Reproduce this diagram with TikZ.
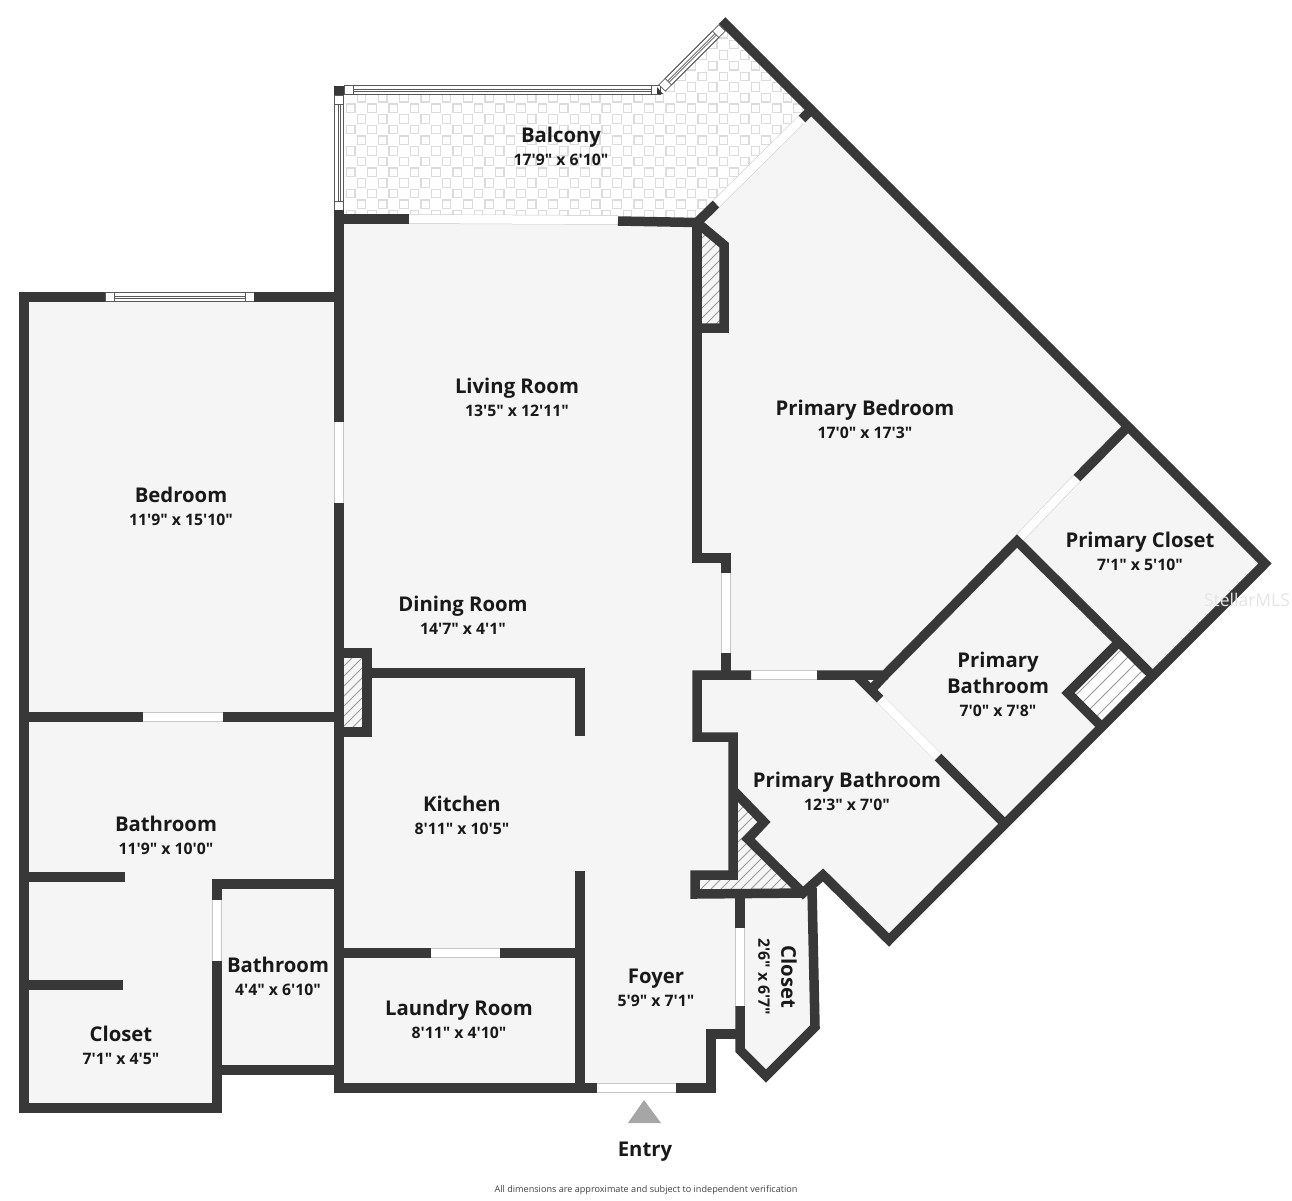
\documentclass[tikz,border=0pt]{standalone}
\usepackage{fontspec}
\usetikzlibrary{calc}
\newfontfamily\planfont{Open Sans}
\definecolor{wallgray}{HTML}{383838}
\definecolor{floorgray}{HTML}{F5F5F5}
\definecolor{tilegray}{HTML}{DCDCDC}
\newcommand{\clrwall}{wallgray}
\newcommand{\clrfloor}{floorgray}
\newcommand{\rmtitle}[1]{{\fontsize{20.3}{23}\selectfont\bfseries #1}}
\newcommand{\rmdims}[1]{{\fontsize{15.8}{23}\selectfont\bfseries #1}}
\newcommand{\rmlabel}[2]{\rmtitle{#1}\\\rmdims{#2}}
\newcommand{\planwindow}[4]{
    \begin{scope}[shift={(#1,#2)}, rotate=#3]
        \draw[winline, fill=white] (0,-4.5) rectangle (#4,4.5);
        \draw[winline] (9,-4.5) rectangle ({#4-9},4.5);
        \draw[winline] (9,-1) -- ({#4-9},-1);
        \draw[winline] (9,1) -- ({#4-9},1);
    \end{scope}
}
\tikzset{
    wall/.style={draw=\clrwall, line width=9.5pt, line join=miter, line cap=butt},
    doorway/.style={draw=black!22, line width=.5pt, double=white, double distance=8.5pt},
    winline/.style={draw=black!65, line width=.7pt},
    hatchline/.style={draw=black!40, line width=.8pt},
    tile/.style={draw=tilegray, line width=1.2pt},
    rmtext/.style={font=\planfont\fontsize{20.3}{23}\selectfont, text=black!90, align=center, inner sep=0pt}
}

\begin{document}
\begin{tikzpicture}[x=1pt, y=-1pt]
    \useasboundingbox (0,0) rectangle (1292,1200);
    %floor
        \fill[\clrfloor] (24,297) -- (339,297) -- (339,222) -- (697,222) -- (716,204) -- (811,110)
            -- (1265,563.5) -- (889,940) -- (823,875) -- (812,885) -- (815,1027) -- (766,1076)
            -- (740,1050) -- (740,1034) -- (711,1034) -- (711,1088) -- (339,1088) -- (339,1070)
            -- (217,1070) -- (217,1108) -- (24,1108) -- cycle;
    %balcony tiles
        \begin{scope}
            \clip (339,95) -- (658,95) -- (722,20.5) -- (811,110) -- (716,204) -- (697,220) -- (339,219) -- cycle;
            \foreach \i in {0,...,44} {
                \foreach \j in {-8,...,11} {
                    \ifodd\numexpr\i+\j+20\relax\else
                        \draw[tile] ({346.45+10.65*\i},{104.05+10.65*\j}) rectangle ++(8.5,8.5);
                    \fi
                }
            }
        \end{scope}
    %hatched blocks
        \begin{scope}
            \clip (697,222) -- (724,245) -- (724,328) -- (697,328) -- cycle;
            \foreach \k in {-12,...,3} {
                \draw[hatchline] ({690+\k*10},340) -- ++(120,-120);
            }
        \end{scope}
        \begin{scope}
            \clip (339,653) -- (367,653) -- (367,732) -- (339,732) -- cycle;
            \foreach \k in {-8,...,3} {
                \draw[hatchline] ({330+\k*10},740) -- ++(100,-100);
            }
        \end{scope}
        \begin{scope}
            \clip (733,790) -- (764,822) -- (748,839) -- (803,893) -- (695,894) -- (695,875) -- (733,875) -- cycle;
            \foreach \k in {-11,...,12} {
                \draw[hatchline] ({690+\k*10},900) -- ++(120,-120);
            }
        \end{scope}
        \begin{scope}
            \clip (1119,642) -- (1068,693) -- (1102,727) -- (1153,676) -- cycle;
            \fill[white] (1060,635) rectangle (1160,735);
            \foreach \k in {-3,...,3} {
                \draw[hatchline] ({1080+\k*7},{705+\k*7}) -- ++(60,-60);
            }
        \end{scope}
        \fill[white] (856,675) -- (885,675) -- (873,690) -- cycle;
    %doors
        \draw[doorway] (409,219) -- (618,220);
        \draw[doorway] (716,204) -- (802,119);
        \draw[doorway] (339,422) -- (339,503);
        \draw[doorway] (143,717) -- (223,717);
        \draw[doorway] (217,900) -- (217,961);
        \draw[doorway] (431,953) -- (500,953);
        \draw[doorway] (597,1088) -- (676,1088);
        \draw[doorway] (726,573) -- (726,653);
        \draw[doorway] (751,675) -- (817,675);
        \draw[doorway] (880,699) -- (938,757);
        \draw[doorway] (1018,539.5) -- (1077,478);
        \draw[doorway] (740,928) -- (740,1006);
    %windows
        \planwindow{344}{90}{0}{316}
        \planwindow{339}{95}{-90}{115}
        \planwindow{662}{88}{45}{85}
        \planwindow{105}{297}{0}{149}
        \fill[\clrwall] (657,87) -- (663,94) -- (657,94) -- cycle;
    %walls on the left
        \draw[wall] (105,297) -- (24,297) -- (24,1108) -- (217,1108) -- (217,961);
        \draw[wall] (254,297) -- (339,297);
        \draw[wall] (24,717) -- (143,717);
        \draw[wall] (223,717) -- (339,717);
        \draw[wall] (24,877) -- (125,877);
        \draw[wall] (24,985) -- (123,985);
        \draw[wall] (217,900) -- (217,884) -- (339,884);
        \draw[wall] (217,1070) -- (339,1070);
    %main west wall and balcony
        \draw[wall] (339,85.5) -- (339,95);
        \draw[wall] (339,210) -- (339,422);
        \draw[wall] (339,503) -- (339,1088) -- (597,1088);
        \draw[wall] (339,219) -- (409,219);
        \draw[wall] (618,221) -- (697,222.5) -- (716,204);
        \draw[wall] (802,119) -- (811,110);
    %kitchen and laundry
        \draw[wall] (339,653) -- (367,653) -- (367,732) -- (339,732);
        \draw[wall] (367,673) -- (580,673) -- (580,736);
        \draw[wall] (580,871) -- (580,1088);
        \draw[wall] (339,953) -- (431,953);
        \draw[wall] (500,953) -- (580,953);
    %east side of living room
        \draw[wall] (697,222.5) -- (724,245) -- (724,328) -- (697,328);
        \draw[wall] (697,222) -- (697,558) -- (726,558) -- (726,573);
        \draw[wall] (726,653) -- (726,675);
        \draw[wall] (751,675) -- (697,675) -- (697,737) -- (733,737) -- (733,875) -- (695,875) -- (695,894) -- (805,893);
    %foyer and closet
        \draw[wall] (676,1088) -- (711,1088) -- (711,1034) -- (740,1034);
        \draw[wall] (740,894) -- (740,928);
        \draw[wall] (740,1006) -- (740,1050) -- (766,1076) -- (815,1027) -- (812,888);
    %outer wall going round the primary rooms
        \draw[wall] (733,790) -- (764,822) -- (748,839) -- (803,893) -- (823,875) -- (889,940) -- (1265,563.5) -- (722,20.5);
    %primary rooms
        \draw[wall] (817,675) -- (885,675) -- (1017,541) -- (1153,676);
        \draw[wall] (1128,426.5) -- (1077,478);
        \draw[wall] (1119,642) -- (1068,693) -- (1102,727);
        \draw[wall] (856,675) -- (880,699);
        \draw[wall] (885,675) -- (870,691);
        \draw[wall] (938,757) -- (1005,824);
    %entry marker
        \fill[black!35] (644,1100) -- (661,1123) -- (628,1123) -- cycle;
    %room labels
        \node[rmtext] (balcony) at (561,146) {\rmlabel{Balcony}{17'9" x 6'10"}};
        \node[rmtext] (living) at (517,397) {\rmlabel{Living Room}{13'5" x 12'11"}};
        \node[rmtext] (primarybed) at (865,419) {\rmlabel{Primary Bedroom}{17'0" x 17'3"}};
        \node[rmtext] (bedroom) at (181,506) {\rmlabel{Bedroom}{11'9" x 15'10"}};
        \node[rmtext] (dining) at (463,615) {\rmlabel{Dining Room}{14'7" x 4'1"}};
        \node[rmtext] (primarycloset) at (1140,551) {\rmlabel{Primary Closet}{7'1" x 5'10"}};
        \node[rmtext] (primarybathb) at (998,684) {\rmtitle{Primary}\\[3pt]\rmtitle{Bathroom}\\\rmdims{7'0" x 7'8"}};
        \node[rmtext] (primarybatha) at (847,791) {\rmlabel{Primary Bathroom}{12'3" x 7'0"}};
        \node[rmtext] (kitchen) at (462,815) {\rmlabel{Kitchen}{8'11" x 10'5"}};
        \node[rmtext] (bathone) at (166,835) {\rmlabel{Bathroom}{11'9" x 10'0"}};
        \node[rmtext] (bathtwo) at (278,976) {\rmlabel{Bathroom}{4'4" x 6'10"}};
        \node[rmtext] (foyer) at (656,987.5) {\rmlabel{Foyer}{5'9" x 7'1"}};
        \node[rmtext] (laundry) at (459,1019) {\rmlabel{Laundry Room}{8'11" x 4'10"}};
        \node[rmtext] (closetone) at (121,1045) {\rmlabel{Closet}{7'1" x 4'5"}};
        \node[rmtext, rotate=-90] (closettwo) at (777.5,977) {\rmlabel{Closet}{2'6" x 6'7"}};
        \node[rmtext] (entry) at (645,1152) {\rmtitle{Entry}};
    %small print
        \node[rmtext, text=black!75] (note) at (646,1190) {\fontsize{9.1}{11}\selectfont All dimensions are approximate and subject to independent verification};
        \node[rmtext, text=black!10] (mark) at (1247,600) {\fontsize{17.5}{20}\selectfont StellarMLS};
\end{tikzpicture}
\end{document}
